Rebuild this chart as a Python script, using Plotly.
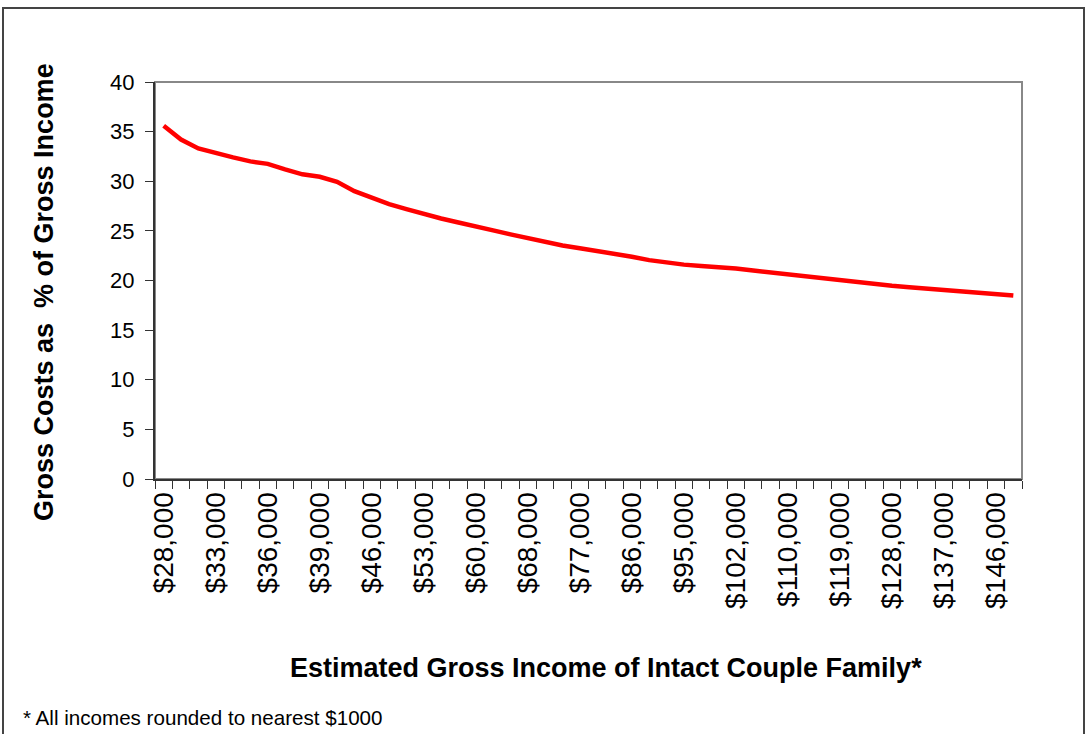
import plotly.graph_objects as go

incomes = [28000, 30000, 31000, 33000, 34000, 35000, 36000, 37000, 38000, 39000,
           41000, 44000, 46000, 48000, 51000, 53000, 55000, 58000, 60000, 63000,
           65000, 68000, 71000, 74000, 77000, 80000, 83000, 86000, 89000, 92000,
           95000, 97000, 100000, 102000, 105000, 107000, 110000, 113000, 116000, 119000,
           122000, 125000, 128000, 131000, 134000, 137000, 140000, 143000, 146000, 149000]
cost_pct = [35.6, 34.2, 33.3, 32.8, 32.4, 32.0, 31.75, 31.2, 30.7, 30.45,
            29.95, 29.0, 28.3, 27.7, 27.2, 26.7, 26.25, 25.85, 25.4, 25.05,
            24.65, 24.25, 23.85, 23.52, 23.25, 23.0, 22.7, 22.4, 22.05, 21.8,
            21.6, 21.45, 21.35, 21.2, 21.0, 20.8, 20.6, 20.4, 20.2, 20.05,
            19.85, 19.65, 19.48, 19.33, 19.18, 19.04, 18.9, 18.76, 18.62, 18.48]
y_ticks = [0, 5, 10, 15, 20, 25, 30, 35, 40]

categories = [f"${v:,}" for v in incomes]
tick_text = [c if i % 3 == 0 else "" for i, c in enumerate(categories)]

FONT = "Arial, 'Liberation Sans', sans-serif"

fig = go.Figure()
fig.add_trace(go.Scatter(
    x=categories, y=cost_pct, mode="lines",
    line=dict(color="#FF0000", width=4.5),
    showlegend=False, hoverinfo="x+y",
))

W, H = 1087, 734
L, R, T, B = 155, 1022, 82, 479
pw, ph = R - L, B - T

def px(xp):
    return (xp - L) / pw

def py(yp):
    return (B - yp) / ph

fig.update_layout(
    width=W, height=H,
    margin=dict(l=L, r=W - R, t=T, b=H - B),
    paper_bgcolor="white", plot_bgcolor="white",
    font=dict(family=FONT, color="black"),
    xaxis=dict(
        type="category", tickvals=categories, ticktext=tick_text,
        tickson="boundaries", ticks="outside", ticklen=8, tickwidth=1,
        tickcolor="#333333", tickangle=-90,
        tickfont=dict(size=28, family=FONT, color="black"),
        showline=True, linecolor="#333333", linewidth=2,
        showgrid=False, zeroline=False, range=[-0.5, len(categories) - 0.5],
    ),
    yaxis=dict(
        range=[0, 40], tickvals=y_ticks, ticks="outside", ticklen=8,
        tickwidth=1, tickcolor="#333333", ticklabelstandoff=6,
        tickfont=dict(size=22, family=FONT, color="black"),
        showline=True, linecolor="#333333", linewidth=2,
        showgrid=False, zeroline=False,
    ),
    shapes=[
        dict(type="rect", xref="paper", yref="paper", x0=0, x1=1, y0=0, y1=1,
             line=dict(color="#888888", width=2), layer="below"),
        dict(type="rect", xref="paper", yref="paper",
             x0=px(3), x1=px(1084), y0=py(760), y1=py(8),
             line=dict(color="#444444", width=2), layer="below"),
    ],
    annotations=[
        dict(text="<b>Estimated Gross Income of Intact Couple Family*</b>",
             xref="paper", yref="paper", x=px(606), y=py(668),
             showarrow=False, xanchor="center", yanchor="middle",
             font=dict(size=27, family=FONT, color="black")),
        dict(text="<b>Gross Costs as  % of Gross Income</b>",
             xref="paper", yref="paper", x=px(44), y=py(292),
             showarrow=False, xanchor="center", yanchor="middle", textangle=-90,
             font=dict(size=27, family=FONT, color="black")),
        dict(text="* All incomes rounded to nearest $1000",
             xref="paper", yref="paper", x=px(21), y=py(717),
             showarrow=False, xanchor="left", yanchor="middle",
             font=dict(size=20.6, family=FONT, color="black")),
    ],
)

fig.write_html("out.html", config={"displayModeBar": False},
               post_script="document.body.style.margin='0';document.body.style.padding='0';")
